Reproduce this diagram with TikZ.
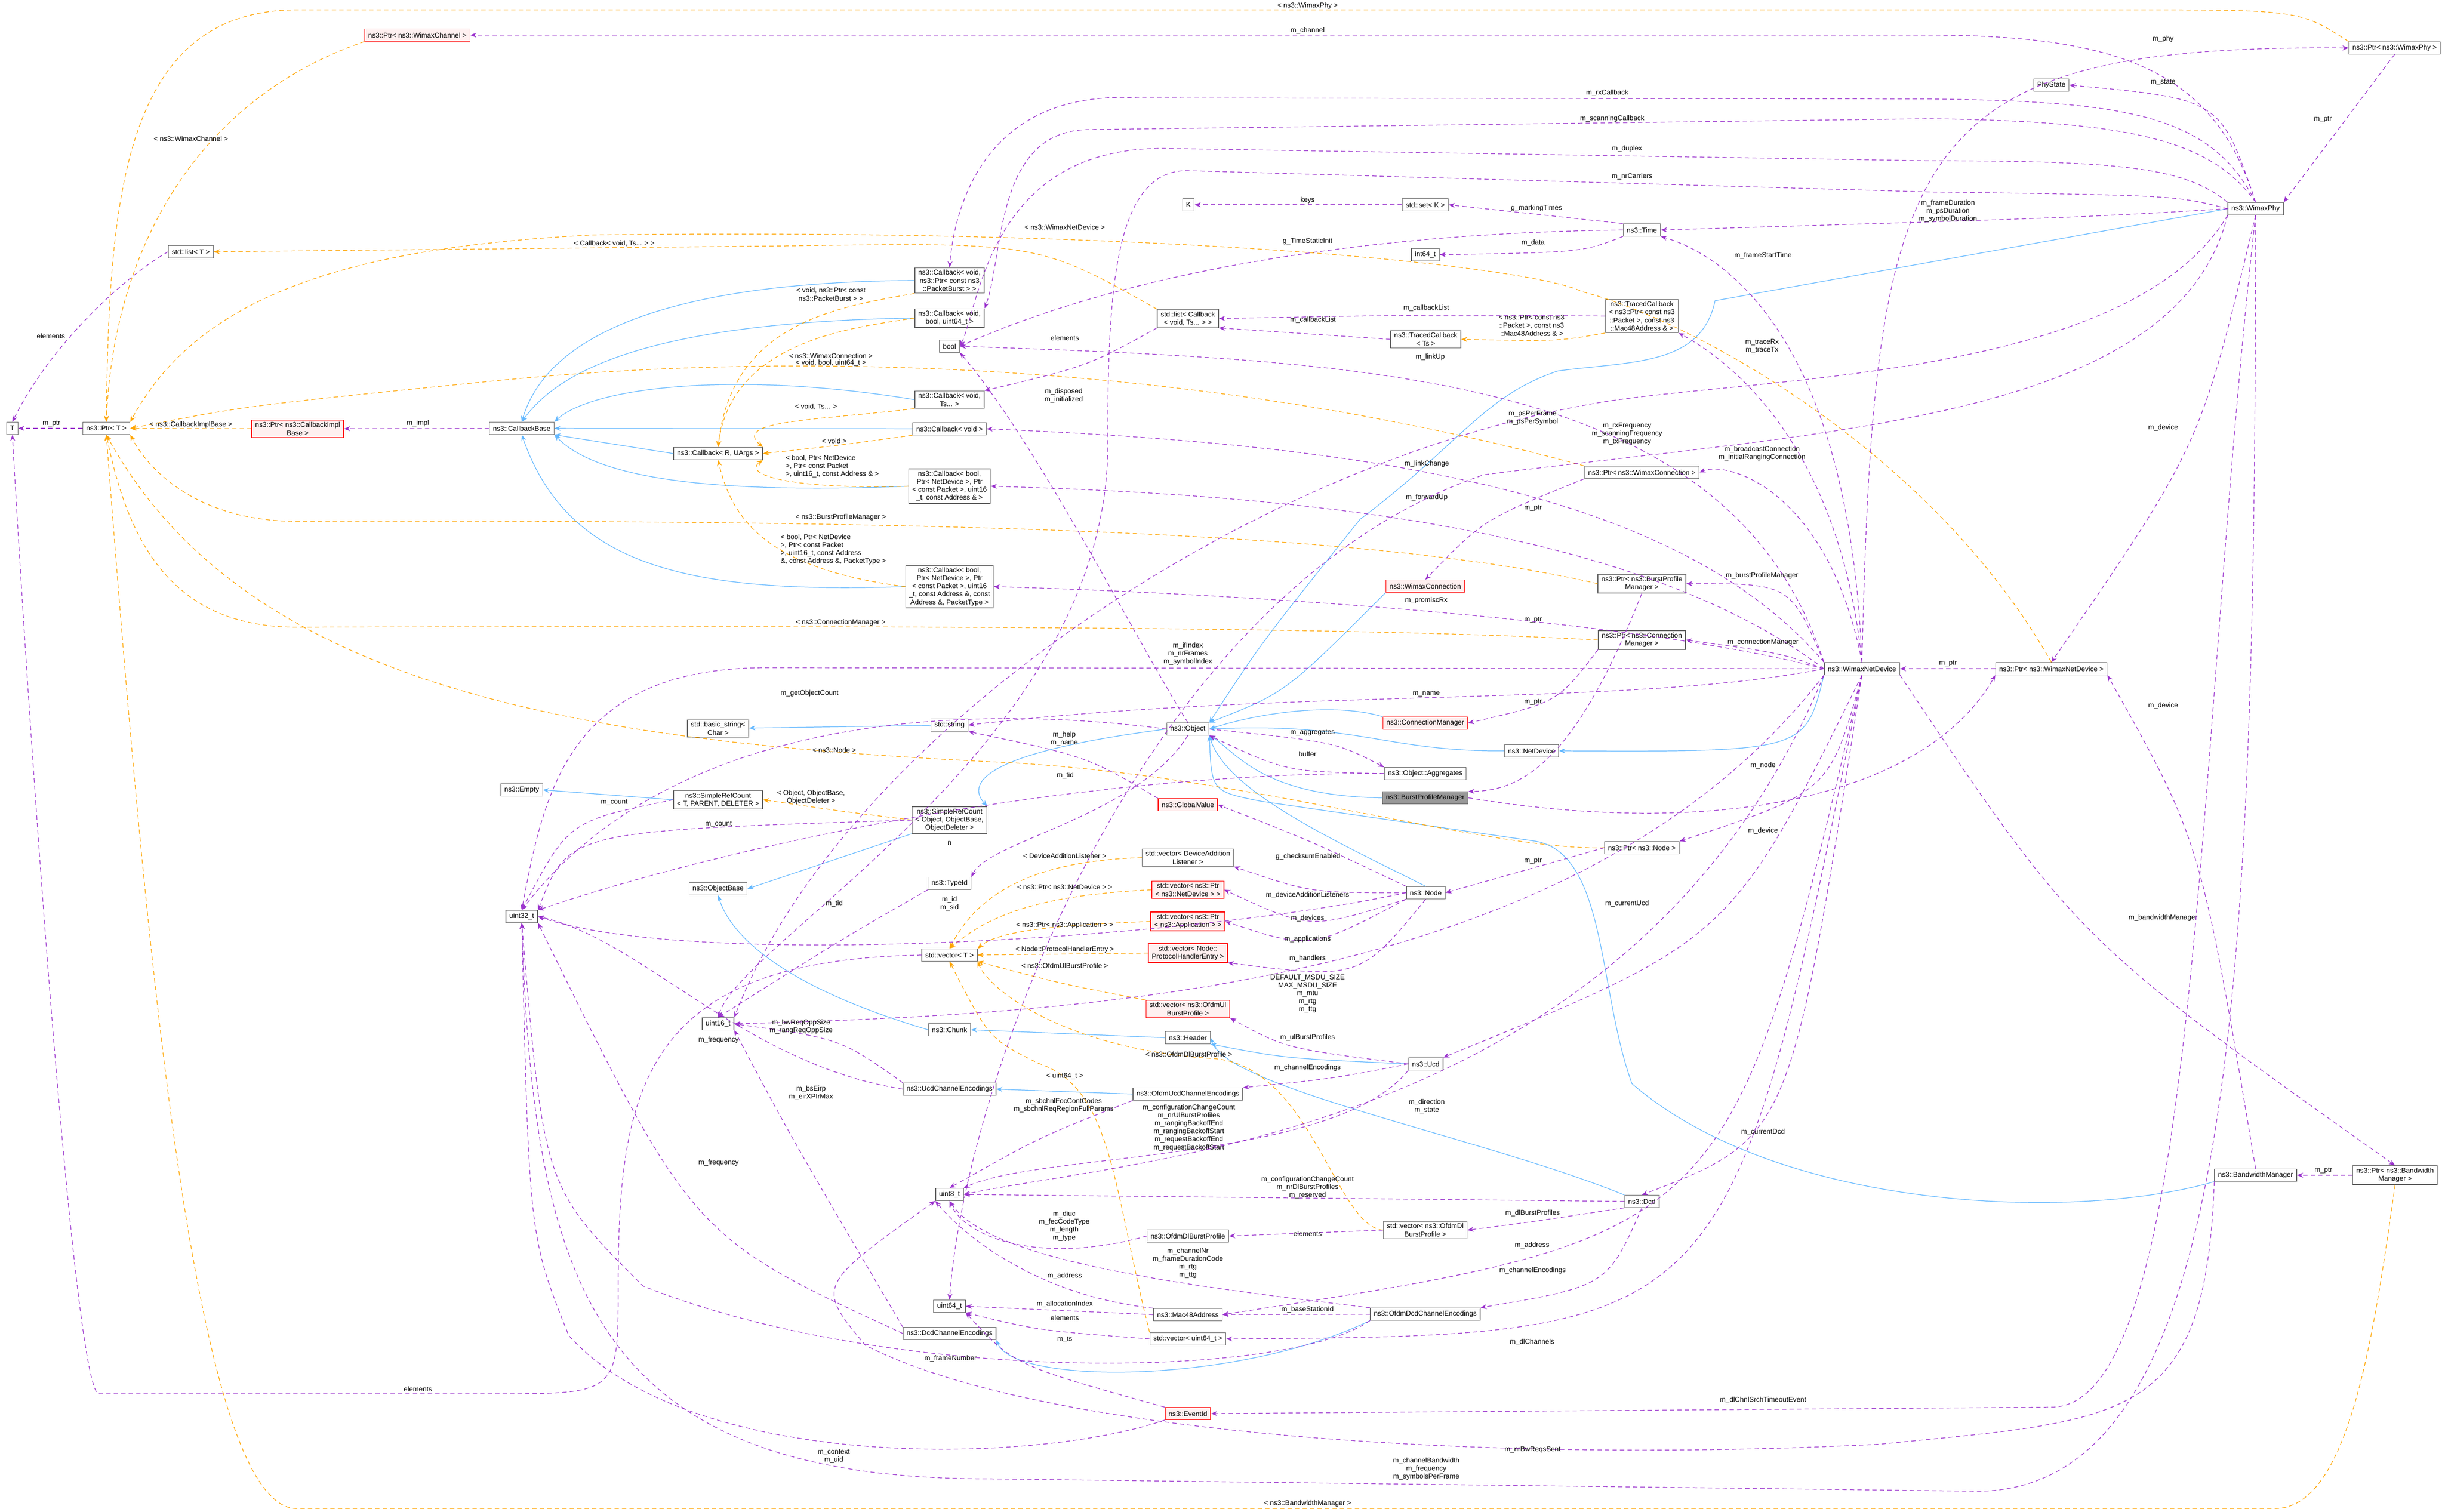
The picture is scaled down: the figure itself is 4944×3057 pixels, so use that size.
\documentclass[tikz,border=0pt]{standalone}
\usepackage{fontspec}
\setmainfont{Liberation Sans}
\usetikzlibrary{arrows.meta}
\definecolor{purp}{HTML}{9A32CD}
\definecolor{orng}{HTML}{FFA500}
\definecolor{blu}{HTML}{63B8FF}
\definecolor{bgray}{HTML}{666666}
\definecolor{redfill}{HTML}{FFF0F0}
\definecolor{grayfill}{HTML}{999999}
\tikzset{
 fnt/.style={font=\fontsize{4}{4.6}\selectfont},
 box/.style={fnt,draw=bgray,fill=white,line width=0.4pt,inner xsep=2pt,inner ysep=1.2pt,minimum height=7pt,align=center},
 redbox/.style={box,draw=red,fill=redfill},
 graybox/.style={box,fill=grayfill},
 lbl/.style={fnt,inner sep=0pt,align=center},
 mem/.style={draw=purp,dashed,dash pattern=on 2.5pt off 1.8pt,line width=0.35pt,-{Stealth[length=3.5pt,width=2.8pt]}},
 inh/.style={draw=blu,line width=0.35pt,-{Stealth[length=3.5pt,width=2.8pt]}},
 tpl/.style={draw=orng,dashed,dash pattern=on 2.5pt off 1.8pt,line width=0.35pt,-{Stealth[length=3.5pt,width=2.8pt]}},
}
\begin{document}
\begin{tikzpicture}[x=0.01cm,y=-0.01cm]
\fill[white] (0,0) rectangle (4944,3057);
\useasboundingbox (0,0) rectangle (4944,3057);
% nodes
\node[box] (T) at (25,866) {T};
\node[box] (PtrT) at (215,866) {ns3::Ptr< T >};
\node[redbox] (PtrCBIB) at (602,867) {ns3::Ptr< ns3::CallbackImpl\\Base >};
\node[box] (CBB) at (1055,866) {ns3::CallbackBase};
\node[box] (CRU) at (1452,917) {ns3::Callback< R, UArgs >};
\node[box] (ListT) at (386,509) {std::list< T >};
\node[redbox] (PtrWCh) at (844,71) {ns3::Ptr< ns3::WimaxChannel >};
\node[box] (CbPB) at (1920,567) {ns3::Callback< void,\\ns3::Ptr< const ns3\\::PacketBurst > >};
\node[box] (CbVB) at (1920,643) {ns3::Callback< void,\\bool, uint64\_t >};
\node[box] (Bool) at (1920,700) {bool};
\node[box] (CbVT) at (1920,808) {ns3::Callback< void,\\Ts... >};
\node[box] (CbV) at (1920,867) {ns3::Callback< void >};
\node[box] (CbB4) at (1920,983) {ns3::Callback< bool,\\Ptr< NetDevice >, Ptr\\< const Packet >, uint16\\\_t, const Address \& >};
\node[box] (ListCb) at (2402,644) {std::list< Callback\\< void, Ts... > >};
\node[box] (K) at (2403,414) {K};
\node[box] (SetK) at (2882,414) {std::set< K >};
\node[box] (I64) at (2882,515) {int64\_t};
\node[box] (TCTs) at (2883,686) {ns3::TracedCallback\\< Ts >};
\node[box] (TCPk) at (3320,639) {ns3::TracedCallback\\< ns3::Ptr< const ns3\\::Packet >, const ns3\\::Mac48Address \& >};
\node[box] (Time) at (3320,465) {ns3::Time};
\node[box] (PtrWCo) at (3320,955) {ns3::Ptr< ns3::WimaxConnection >};
\node[box] (PtrWPhy) at (4842,97) {ns3::Ptr< ns3::WimaxPhy >};
\node[box] (PhyState) at (4148,172) {PhyState};
\node[box] (Phy) at (4561,422) {ns3::WimaxPhy};
\node[box] (CbB5) at (1920,1186) {ns3::Callback< bool,\\Ptr< NetDevice >, Ptr\\< const Packet >, uint16\\\_t, const Address \&, const\\Address \&, PacketType >};
\node[redbox] (WCo) at (2882,1185) {ns3::WimaxConnection};
\node[box] (PtrBPM) at (3320,1180) {ns3::Ptr< ns3::BurstProfile\\Manager >};
\node[box] (PtrCM) at (3320,1294) {ns3::Ptr< ns3::Connection\\Manager >};
\node[box] (Str) at (1920,1466) {std::string};
\node[box] (BStr) at (1452,1473) {std::basic\_string<\\Char >};
\node[box] (Obj) at (2402,1474) {ns3::Object};
\node[redbox] (CM) at (2882,1462) {ns3::ConnectionManager};
\node[box] (ND) at (3097,1518) {ns3::NetDevice};
\node[box] (WND) at (3765,1352) {ns3::WimaxNetDevice};
\node[box] (PtrWND) at (4148,1352) {ns3::Ptr< ns3::WimaxNetDevice >};
\node[box] (Agg) at (2882,1564) {ns3::Object::Aggregates};
\node[graybox] (BPM) at (2882,1613) {ns3::BurstProfileManager};
\node[redbox] (GV) at (2402,1627) {ns3::GlobalValue};
\node[box] (SRCO) at (1920,1658) {ns3::SimpleRefCount\\< Object, ObjectBase,\\ObjectDeleter >};
\node[box] (SRCT) at (1452,1617) {ns3::SimpleRefCount\\< T, PARENT, DELETER >};
\node[box] (Empty) at (1055,1597) {ns3::Empty};
\node[box] (OB) at (1452,1797) {ns3::ObjectBase};
\node[box] (U32) at (1055,1853) {uint32\_t};
\node[box] (VDAL) at (2402,1734) {std::vector< DeviceAddition\\Listener >};
\node[box] (PtrNode) at (3320,1714) {ns3::Ptr< ns3::Node >};
\node[box] (TId) at (1920,1786) {ns3::TypeId};
\node[box] (Node) at (2883,1805) {ns3::Node};
\node[redbox] (VND) at (2402,1799) {std::vector< ns3::Ptr\\< ns3::NetDevice > >};
\node[redbox] (VApp) at (2402,1863) {std::vector< ns3::Ptr\\< ns3::Application > >};
\node[redbox] (VPHE) at (2402,1927) {std::vector< Node::\\ProtocolHandlerEntry >};
\node[box] (VT) at (1920,1931) {std::vector< T >};
\node[redbox] (VUl) at (2402,2040) {std::vector< ns3::OfdmUl\\BurstProfile >};
\node[box] (U16) at (1452,2070) {uint16\_t};
\node[box] (Chunk) at (1920,2082) {ns3::Chunk};
\node[box] (Hdr) at (2402,2098) {ns3::Header};
\node[box] (Ucd) at (2883,2151) {ns3::Ucd};
\node[box] (UcdCE) at (1920,2202) {ns3::UcdChannelEncodings};
\node[box] (OUcdCE) at (2402,2212) {ns3::OfdmUcdChannelEncodings};
\node[box] (U8) at (1920,2415) {uint8\_t};
\node[box] (Dcd) at (3320,2429) {ns3::Dcd};
\node[box] (VDl) at (2882,2487) {std::vector< ns3::OfdmDl\\BurstProfile >};
\node[box] (ODl) at (2402,2499) {ns3::OfdmDlBurstProfile};
\node[box] (U64) at (1920,2641) {uint64\_t};
\node[box] (Mac) at (2402,2658) {ns3::Mac48Address};
\node[box] (ODcdCE) at (2882,2657) {ns3::OfdmDcdChannelEncodings};
\node[box] (DcdCE) at (1920,2696) {ns3::DcdChannelEncodings};
\node[box] (VU64) at (2402,2707) {std::vector< uint64\_t >};
\node[redbox] (Ev) at (2402,2858) {ns3::EventId};
\node[box] (BWM) at (4561,2376) {ns3::BandwidthManager};
\node[box] (PtrBWM) at (4843,2376) {ns3::Ptr< ns3::Bandwidth\\Manager >};

% inheritance
\draw[inh] (CbPB.west) .. controls (1300,570) and (1100,700) .. (CBB.north);
\draw[inh] (CbVB.west) .. controls (1400,650) and (1150,720) .. (CBB.north);
\draw[inh] (CbVT.west) .. controls (1500,750) and (1200,780) .. (CBB.north east);
\draw[inh] (CbV) -- (CBB);
\draw[inh] (CRU.west) -- (CBB.south east);
\draw[inh] (CbB4.west) .. controls (1400,1000) and (1200,960) .. (CBB.south east);
\draw[inh] (CbB5.west) .. controls (1400,1200) and (1150,1150) .. (CBB.south);
\draw[inh] (Phy.west) -- (3468,608) .. controls (3440,740) and (3300,730) .. (3150,750) .. controls (3000,800) and (2950,900) .. (2750,1050) .. controls (2550,1300) .. (Obj.north east);
\draw[inh] (WCo.south west) .. controls (2600,1400) .. (Obj.north east);
\draw[inh] (CM.north west) .. controls (2700,1420) and (2550,1440) .. (Obj.east);
\draw[inh] (ND.west) .. controls (2800,1520) and (2750,1460) .. (Obj.east);
\draw[inh] (WND.south west) .. controls (3650,1520) .. (ND.east);
\draw[inh] (BPM.west) .. controls (2550,1610) and (2500,1520) .. (Obj.south east);
\draw[inh] (Node.north) .. controls (2700,1700) and (2480,1600) .. (Obj.south east);
\draw[inh] (BWM.south west) .. controls (4200,2470) and (3600,2450) .. (3300,2191) .. controls (3230,2000) and (3250,1720) .. (3100,1700) -- (2550,1620) .. controls (2450,1600) .. (Obj.south east);
\draw[inh] (Str) -- (BStr);
\draw[inh] (Obj.west) .. controls (2000,1520) and (1950,1580) .. (SRCO.north east);
\draw[inh] (SRCO.south west) -- (OB.east);
\draw[inh] (SRCT.west) -- (Empty.east);
\draw[inh] (Chunk.west) .. controls (1600,2000) and (1480,1900) .. (OB.south);
\draw[inh] (Hdr.west) -- (Chunk.east);
\draw[inh] (Ucd.west) .. controls (2600,2140) .. (Hdr.south east);
\draw[inh] (Dcd.north west) .. controls (3000,2300) and (2480,2200) .. (Hdr.east);
\draw[inh] (OUcdCE.west) -- (UcdCE.east);
\draw[inh] (ODcdCE.south west) .. controls (2500,2800) and (2050,2800) .. (DcdCE.south east);

% templates
\draw[tpl] (PtrWPhy.north west) .. controls (4650,20) .. (4300,20) -- (600,20) .. controls (250,20) and (220,400) .. (PtrT.north) node[lbl,at={(2644,12)}]{< ns3::WimaxPhy >};
\draw[tpl] (PtrWCh.south west) .. controls (400,200) and (230,500) .. (PtrT.north) node[lbl,at={(386,280)}]{< ns3::WimaxChannel >};
\draw[tpl] (ListCb.north west) .. controls (2100,490) .. (1600,497) -- (ListT.east) node[lbl,at={(1242,492)}]{< Callback< void, Ts... > >};
\draw[tpl] (PtrWND.north) .. controls (3900,900) and (3400,640) .. (3200,590) .. controls (3100,540) and (2400,460) .. (1200,475) .. controls (700,500) and (400,600) .. (PtrT.north east) node[lbl,at={(2153,459)}]{< ns3::WimaxNetDevice >};
\draw[tpl] (PtrCBIB) -- (PtrT) node[lbl,at={(386,859)}]{< ns3::CallbackImplBase >};
\draw[tpl] (PtrWCo.north west) .. controls (2500,750) and (1700,700) .. (1000,770) .. controls (500,820) .. (PtrT.east) node[lbl,at={(1680,719)}]{< ns3::WimaxConnection >};
\draw[tpl] (CbVB.west) .. controls (1750,660) and (1480,680) .. (CRU.north) node[lbl,at={(1680,734)}]{< void, bool, uint64\_t >};
\draw[tpl] (CbPB.south west) .. controls (1700,620) and (1480,650) .. (CRU.north) node[lbl,at={(1680,595)}]{< void, ns3::Ptr< const\\ns3::PacketBurst > >};
\draw[tpl] (CbVT.south west) .. controls (1650,850) and (1480,850) .. (CRU.north east) node[lbl,at={(1650,822)}]{< void, Ts... >};
\draw[tpl] (CbV.south west) .. controls (1700,900) .. (CRU.east) node[lbl,at={(1687,891)}]{< void >};
\draw[tpl] (CbB4.west) .. controls (1600,990) and (1500,960) .. (CRU.south east) node[lbl,anchor=west,align=left,at={(1588,943)}]{< bool, Ptr< NetDevice\\>, Ptr< const Packet\\>, uint16\_t, const Address \& >};
\draw[tpl] (CbB5.west) .. controls (1550,1150) and (1480,1050) .. (CRU.south) node[lbl,anchor=west,align=left,at={(1578,1111)}]{< bool, Ptr< NetDevice\\>, Ptr< const Packet\\>, uint16\_t, const Address\\\&, const Address \&, PacketType >};
\draw[tpl] (PtrBPM.west) .. controls (2800,1080) and (2000,1050) .. (600,1054) .. controls (400,1054) and (300,950) .. (PtrT.south east) node[lbl,at={(1700,1046)}]{< ns3::BurstProfileManager >};
\draw[tpl] (PtrCM.west) .. controls (2800,1270) and (2000,1264) .. (600,1268) .. controls (350,1268) and (260,1100) .. (PtrT.south) node[lbl,at={(1700,1259)}]{< ns3::ConnectionManager >};
\draw[tpl] (PtrNode.west) .. controls (3000,1720) and (2500,1560) .. (2000,1540) .. controls (1200,1500) and (500,1400) .. (PtrT.south) node[lbl,at={(1687,1516)}]{< ns3::Node >};
\draw[tpl] (TCPk.south west) .. controls (3150,690) .. (TCTs.east) node[lbl,at={(3097,658)}]{< ns3::Ptr< const ns3\\::Packet >, const ns3\\::Mac48Address \& >};
\draw[tpl] (SRCO.west) .. controls (1700,1640) .. (SRCT.east) node[lbl,at={(1640,1612)}]{< Object, ObjectBase,\\ObjectDeleter >};
\draw[tpl] (VDAL.west) .. controls (2100,1740) and (1980,1800) .. (VT.north) node[lbl,at={(2153,1730)}]{< DeviceAdditionListener >};
\draw[tpl] (VND.west) .. controls (2100,1810) and (2000,1850) .. (VT.north) node[lbl,at={(2153,1793)}]{< ns3::Ptr< ns3::NetDevice > >};
\draw[tpl] (VApp.west) .. controls (2150,1870) and (2020,1880) .. (VT.north east) node[lbl,at={(2153,1871)}]{< ns3::Ptr< ns3::Application > >};
\draw[tpl] (VPHE.west) -- (VT.east) node[lbl,at={(2153,1920)}]{< Node::ProtocolHandlerEntry >};
\draw[tpl] (VUl.north west) .. controls (2150,1990) .. (VT.south east) node[lbl,at={(2153,1952)}]{< ns3::OfdmUlBurstProfile >};
\draw[tpl] (VDl.west) .. controls (2700,2480) and (2650,2150) .. (2450,2140) .. controls (2150,2120) and (2000,2000) .. (VT.south east) node[lbl,at={(2404,2131)}]{< ns3::OfdmDlBurstProfile >};
\draw[tpl] (VU64.north west) .. controls (2250,2400) and (2250,2200) .. (2100,2150) .. controls (2000,2100) .. (VT.south) node[lbl,at={(2153,2176)}]{< uint64\_t >};
\draw[tpl] (PtrBWM.south) .. controls (4800,2700) and (4750,3050) .. (4600,3050) -- (600,3050) .. controls (400,3050) and (300,2000) .. (PtrT.south) node[lbl,at={(2644,3040)}]{< ns3::BandwidthManager >};

% members
\draw[mem] (PtrT) -- (T) node[lbl,at={(104,856)}]{m\_ptr};
\draw[mem] (ListT.west) .. controls (250,560) and (100,700) .. (T.north) node[lbl,at={(103,679)}]{elements};
\draw[mem] (VT.west) .. controls (1300,1940) and (1250,2200) .. (1250,2600) .. controls (1250,2818) .. (1000,2818) -- (200,2818) .. controls (150,2818) and (60,1500) .. (T.south) node[lbl,at={(845,2808)}]{elements};
\draw[mem] (CBB) -- (PtrCBIB) node[lbl,at={(845,856)}]{m\_impl};
\draw[mem] (Phy.north) .. controls (4480,150) and (4300,71) .. (3900,71) -- (PtrWCh.east) node[lbl,at={(2644,62)}]{m\_channel};
\draw[mem] (WND.north) .. controls (3790,300) and (3850,90) .. (PtrWPhy.west) node[lbl,at={(4374,79)}]{m\_phy};
\draw[mem] (PtrWPhy.south) -- (Phy.north east) node[lbl,at={(4697,241)}]{m\_ptr};
\draw[mem] (Phy.north) .. controls (4490,200) .. (PhyState.east) node[lbl,at={(4374,166)}]{m\_state};
\draw[mem] (Phy.north) .. controls (4470,230) and (4300,205) .. (3900,200) -- (2300,198) .. controls (1990,180) and (1930,420) .. (CbPB.north) node[lbl,at={(3250,188)}]{m\_rxCallback};
\draw[mem] (Phy.north) .. controls (4470,280) and (4300,245) .. (3900,240) -- (2200,262) .. controls (2010,265) and (2030,520) .. (CbVB.north east) node[lbl,at={(3260,240)}]{m\_scanningCallback};
\draw[mem] (Phy.north west) .. controls (4420,340) and (4300,325) .. (3900,325) -- (2350,300) .. controls (2000,300) and (1980,620) .. (Bool.east) node[lbl,at={(3290,301)}]{m\_duplex};
\draw[mem] (Phy.west) .. controls (4400,395) .. (3900,388) -- (2400,345) .. controls (2250,345) and (2240,600) .. (2240,900) .. controls (2240,1500) and (1500,1900) .. (U16.north) node[lbl,at={(3300,357)}]{m\_nrCarriers};
\draw[mem] (Phy.west) .. controls (4200,440) .. (Time.east) node[lbl,at={(3939,427)}]{m\_frameDuration\\m\_psDuration\\m\_symbolDuration};
\draw[mem] (Time.north west) -- (SetK.east) node[lbl,at={(3107,421)}]{g\_markingTimes};
\draw[mem] (SetK) -- (K) node[lbl,at={(2644,405)}]{keys};
\draw[mem] (Time.west) .. controls (2800,470) and (2300,540) .. (Bool.east) node[lbl,at={(2644,488)}]{g\_TimeStaticInit};
\draw[mem] (Time.south west) .. controls (3200,510) .. (I64.east) node[lbl,at={(3100,491)}]{m\_data};
\draw[mem] (TCPk.west) .. controls (2900,636) .. (ListCb.east) node[lbl,at={(2884,623)}]{m\_callbackList};
\draw[mem] (TCTs.west) -- (ListCb.south east) node[lbl,at={(2655,647)}]{m\_callbackList};
\draw[mem] (ListCb.south west) .. controls (2200,740) .. (CbVT.north east) node[lbl,at={(2153,683)}]{elements};
\draw[mem] (Obj.north) .. controls (2300,1300) and (2100,900) .. (Bool.south east) node[lbl,at={(2151,800)}]{m\_disposed\\m\_initialized};
\draw[mem] (WND.north west) .. controls (3500,760) and (2800,730) .. (Bool.east) node[lbl,at={(2892,722)}]{m\_linkUp};
\draw[mem] (WND.north west) .. controls (3400,1000) and (2800,900) .. (CbV.east) node[lbl,at={(2885,938)}]{m\_linkChange};
\draw[mem] (WND.west) .. controls (3300,1060) and (2600,1000) .. (CbB4.east) node[lbl,at={(2885,1006)}]{m\_forwardUp};
\draw[mem] (WND.north) .. controls (3720,900) and (3500,730) .. (TCPk.south east) node[lbl,at={(3563,700)}]{m\_traceRx\\m\_traceTx};
\draw[mem] (WND.north) .. controls (3740,700) and (3500,520) .. (Time.south east) node[lbl,at={(3565,517)}]{m\_frameStartTime};
\draw[mem] (WND.north) .. controls (3700,1000) and (3500,930) .. (PtrWCo.east) node[lbl,at={(3563,917)}]{m\_broadcastConnection\\m\_initialRangingConnection};
\draw[mem] (Phy.south west) .. controls (4300,780) and (3500,760) .. (3200,820) .. controls (2500,950) and (1700,1500) .. (U16.north east) node[lbl,at={(3099,845)}]{m\_psPerFrame\\m\_psPerSymbol};
\draw[mem] (Phy.south west) .. controls (4400,850) and (3700,870) .. (3000,960) .. controls (2300,1200) and (1950,2200) .. (U64.north) node[lbl,at={(3290,877)}]{m\_rxFrequency\\m\_scanningFrequency\\m\_txFrequency};
\draw[mem] (PtrWCo.south west) .. controls (3000,1050) .. (WCo.north) node[lbl,at={(3100,1027)}]{m\_ptr};
\draw[mem] (WND.north west) .. controls (3620,1180) .. (PtrBPM.east) node[lbl,at={(3563,1164)}]{m\_burstProfileManager};
\draw[mem] (PtrBPM.south) .. controls (3200,1500) and (3100,1600) .. (BPM.north east) node[lbl,at={(3100,1253)}]{m\_ptr};
\draw[mem] (WND.west) .. controls (3600,1320) .. (PtrCM.east) node[lbl,at={(3565,1299)}]{m\_connectionManager};
\draw[mem] (PtrCM.south west) .. controls (3150,1420) .. (CM.east) node[lbl,at={(3100,1419)}]{m\_ptr};
\draw[mem] (WND.west) .. controls (3300,1250) and (2500,1200) .. (CbB5.east) node[lbl,at={(2884,1214)}]{m\_promiscRx};
\draw[mem] (WND.west) -- (1550,1350) .. controls (1150,1350) and (1100,1600) .. (U32.north) node[lbl,at={(2402,1322)}]{m\_ifIndex\\m\_nrFrames\\m\_symbolIndex};
\draw[mem] (WND.west) .. controls (3300,1430) and (2600,1390) .. (Str.east) node[lbl,at={(2884,1403)}]{m\_name};
\draw[mem] (Obj.west) .. controls (2100,1440) and (1400,1390) .. (U32.north) node[lbl,at={(1637,1402)}]{m\_getObjectCount};
\draw[mem] (Obj.east) .. controls (2700,1500) .. (Agg.north west) node[lbl,at={(2654,1481)}]{m\_aggregates};
\draw[mem] (Agg.west) .. controls (2600,1560) .. (Obj.south east) node[lbl,at={(2644,1524)}]{buffer};
\draw[mem] (Agg.west) .. controls (2200,1560) and (1500,1700) .. (U32.north east) node[lbl,at={(1920,1705)}]{n};
\draw[mem] (Obj.south) .. controls (2300,1650) and (2000,1700) .. (TId.north east) node[lbl,at={(2154,1568)}]{m\_tid};
\draw[mem] (GV.north west) .. controls (2200,1530) .. (Str.south east) node[lbl,at={(2152,1494)}]{m\_help\\m\_name};
\draw[mem] (SRCT.west) .. controls (1150,1660) .. (U32.north) node[lbl,at={(1242,1622)}]{m\_count};
\draw[mem] (SRCO.west) .. controls (1150,1680) .. (U32.north east) node[lbl,at={(1453,1666)}]{m\_count};
\draw[mem] (TId.south west) .. controls (1700,1900) .. (U16.north) node[lbl,at={(1687,1827)}]{m\_tid};
\draw[mem] (Node.west) .. controls (2400,1900) and (1400,1960) .. (U32.east) node[lbl,at={(1920,1827)}]{m\_id\\m\_sid};
\draw[mem] (Node.north west) .. controls (2650,1700) .. (GV.east) node[lbl,at={(2645,1732)}]{g\_checksumEnabled};
\draw[mem] (Node.west) .. controls (2650,1805) .. (VDAL.south east) node[lbl,at={(2644,1810)}]{m\_deviceAdditionListeners};
\draw[mem] (Node.south west) .. controls (2650,1880) .. (VND.east) node[lbl,at={(2644,1857)}]{m\_devices};
\draw[mem] (Node.south west) .. controls (2650,1920) .. (VApp.east) node[lbl,at={(2644,1899)}]{m\_applications};
\draw[mem] (Node.south) .. controls (2750,1980) .. (VPHE.south east) node[lbl,at={(2644,1938)}]{m\_handlers};
\draw[mem] (WND.south west) .. controls (3200,2000) and (2200,2050) .. (U16.east) node[lbl,at={(2644,2009)}]{DEFAULT\_MSDU\_SIZE\\MAX\_MSDU\_SIZE\\m\_mtu\\m\_rtg\\m\_ttg};
\draw[mem] (PtrNode.west) -- (Node.east) node[lbl,at={(3100,1740)}]{m\_ptr};
\draw[mem] (WND.south) .. controls (3700,1600) .. (PtrNode.north east) node[lbl,at={(3565,1548)}]{m\_node};
\draw[mem] (BPM.east) .. controls (3500,1700) and (3900,1600) .. (PtrWND.south west) node[lbl,at={(3565,1680)}]{m\_device};
\draw[mem] (Phy.south) .. controls (4450,900) .. (PtrWND.north) node[lbl,at={(4374,865)}]{m\_device};
\draw[mem] (BWM.north) .. controls (4450,1700) .. (PtrWND.south east) node[lbl,at={(4374,1427)}]{m\_device};
\draw[mem] (PtrWND) -- (WND) node[lbl,at={(3939,1341)}]{m\_ptr};
\draw[mem] (WND.south east) .. controls (4200,1900) .. (PtrBWM.north) node[lbl,at={(4374,1856)}]{m\_bandwidthManager};
\draw[mem] (PtrBWM) -- (BWM) node[lbl,at={(4698,2366)}]{m\_ptr};
\draw[mem] (WND.south) .. controls (3500,1900) .. (Ucd.north east) node[lbl,at={(3290,1827)}]{m\_currentUcd};
\draw[mem] (WND.south) .. controls (3620,2300) .. (Dcd.north) node[lbl,at={(3565,2289)}]{m\_currentDcd};
\draw[mem] (Ucd.west) .. controls (2600,2120) .. (VUl.south east) node[lbl,at={(2644,2098)}]{m\_ulBurstProfiles};
\draw[mem] (Ucd.west) .. controls (2700,2180) .. (OUcdCE.north east) node[lbl,at={(2644,2159)}]{m\_channelEncodings};
\draw[mem] (Ucd.south west) .. controls (2700,2350) and (2100,2330) .. (U8.north east) node[lbl,at={(2404,2280)}]{m\_configurationChangeCount\\m\_nrUlBurstProfiles\\m\_rangingBackoffEnd\\m\_rangingBackoffStart\\m\_requestBackoffEnd\\m\_requestBackoffStart};
\draw[mem] (WND.south west) .. controls (3300,2300) and (2300,2340) .. (U8.east) node[lbl,at={(2885,2237)}]{m\_direction\\m\_state};
\draw[mem] (Dcd.west) -- (U8.east) node[lbl,at={(2644,2401)}]{m\_configurationChangeCount\\m\_nrDlBurstProfiles\\m\_reserved};
\draw[mem] (Dcd.south west) .. controls (3100,2470) .. (VDl.east) node[lbl,at={(3099,2453)}]{m\_dlBurstProfiles};
\draw[mem] (VDl.west) -- (ODl.east) node[lbl,at={(2644,2494)}]{elements};
\draw[mem] (ODl.west) .. controls (2100,2560) and (1950,2500) .. (U8.south) node[lbl,at={(2152,2479)}]{m\_diuc\\m\_fecCodeType\\m\_length\\m\_type};
\draw[mem] (ODcdCE.north west) .. controls (2400,2600) and (2000,2550) .. (U8.south) node[lbl,at={(2402,2554)}]{m\_channelNr\\m\_frameDurationCode\\m\_rtg\\m\_ttg};
\draw[mem] (Mac.north west) .. controls (2100,2620) and (1950,2500) .. (U8.south west) node[lbl,at={(2153,2580)}]{m\_address};
\draw[mem] (WND.south) .. controls (3500,2500) .. (Mac.east) node[lbl,at={(3098,2518)}]{m\_address};
\draw[mem] (Dcd.south) .. controls (3250,2600) .. (ODcdCE.north east) node[lbl,at={(3099,2569)}]{m\_channelEncodings};
\draw[mem] (ODcdCE) -- (Mac) node[lbl,at={(2644,2648)}]{m\_baseStationId};
\draw[mem] (Mac.west) -- (U64.east) node[lbl,at={(2153,2637)}]{m\_allocationIndex};
\draw[mem] (VU64.west) .. controls (2100,2690) .. (U64.south east) node[lbl,at={(2153,2664)}]{elements};
\draw[mem] (Ev.north west) .. controls (2050,2760) .. (U64.south east) node[lbl,at={(2153,2708)}]{m\_ts};
\draw[mem] (ODcdCE.south west) .. controls (2600,2790) and (1800,2800) .. (1300,2600) .. controls (1100,2400) .. (U32.south) node[lbl,at={(1922,2747)}]{m\_frameNumber};
\draw[mem] (WND.south) .. controls (3500,2700) .. (VU64.east) node[lbl,at={(3098,2714)}]{m\_dlChannels};
\draw[mem] (Phy.south) .. controls (4440,1500) and (4450,2840) .. (4150,2845) -- (Ev.east) node[lbl,at={(3565,2831)}]{m\_dlChnlSrchTimeoutEvent};
\draw[mem] (Ev.south west) .. controls (2100,2960) and (1400,2980) .. (1150,2700) .. controls (1070,2500) .. (U32.south) node[lbl,at={(1686,2944)}]{m\_context\\m\_uid};
\draw[mem] (BWM.south west) .. controls (4460,2880) and (4300,2870) .. (3800,2920) .. controls (3000,2960) and (2100,2900) .. (1750,2720) .. controls (1650,2600) .. (U8.south west) node[lbl,at={(3099,2931)}]{m\_nrBwReqsSent};
\draw[mem] (Phy.south) .. controls (4560,2000) and (4520,3010) .. (4000,3015) -- (2000,2990) .. controls (1200,2990) and (1080,2600) .. (U32.south) node[lbl,at={(2884,2970)}]{m\_channelBandwidth\\m\_frequency\\m\_symbolsPerFrame};
\draw[mem] (UcdCE.north west) .. controls (1700,2100) .. (U16.east) node[lbl,at={(1620,2076)}]{m\_bwReqOppSize\\m\_rangReqOppSize};
\draw[mem] (DcdCE.north west) .. controls (1600,2300) .. (U16.south east) node[lbl,at={(1640,2210)}]{m\_bsEirp\\m\_eirXPIrMax};
\draw[mem] (UcdCE.west) .. controls (1500,2150) and (1300,1900) .. (U32.east) node[lbl,at={(1453,2103)}]{m\_frequency};
\draw[mem] (DcdCE.west) .. controls (1400,2500) .. (U32.south east) node[lbl,at={(1453,2351)}]{m\_frequency};
\draw[mem] (OUcdCE.south west) .. controls (2100,2300) .. (U8.north) node[lbl,at={(2151,2235)}]{m\_sbchnlFocContCodes\\m\_sbchnlReqRegionFullParams};
\end{tikzpicture}
\end{document}
